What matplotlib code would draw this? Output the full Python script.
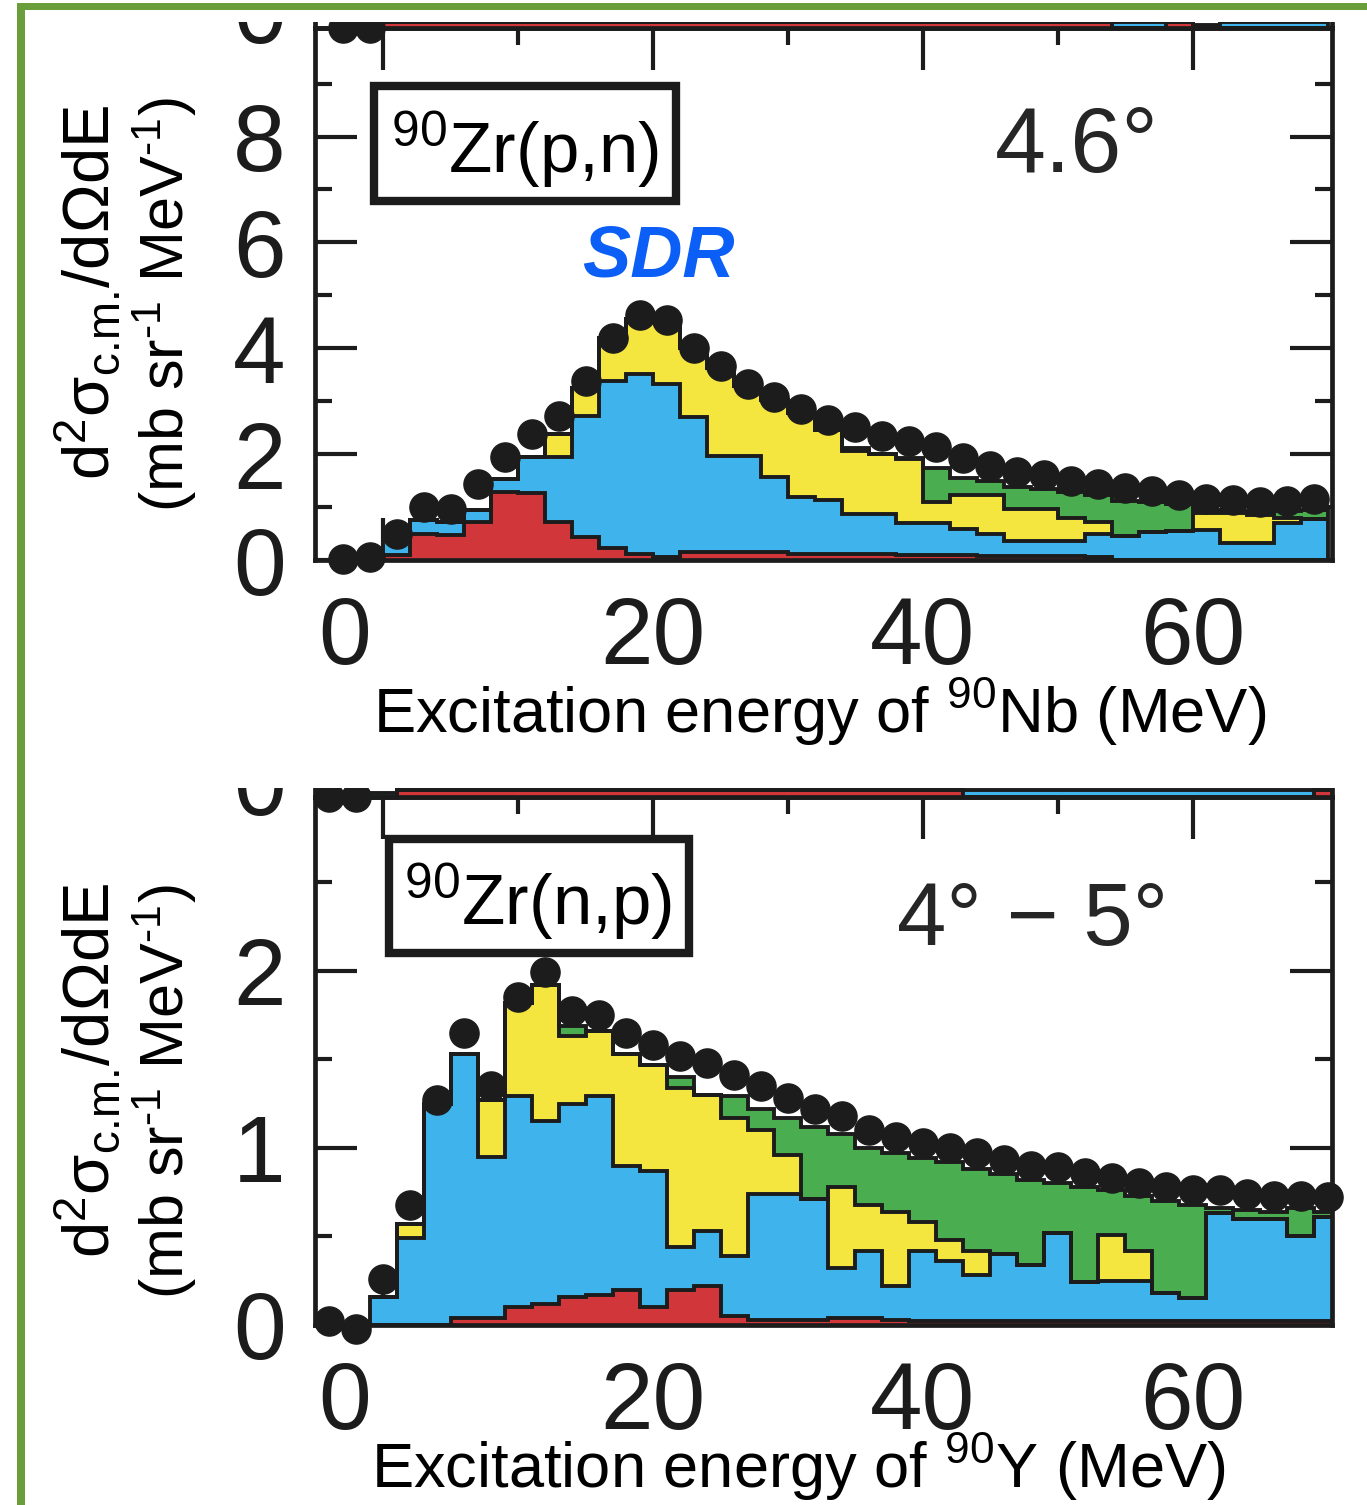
import numpy as np
import matplotlib
matplotlib.use("Agg")
import matplotlib.pyplot as plt
from matplotlib.patches import Rectangle
from matplotlib.transforms import ScaledTranslation

plt.rcParams['font.family'] = ['Liberation Sans', 'DejaVu Sans']
plt.rcParams['mathtext.fontset'] = 'custom'
plt.rcParams['mathtext.rm'] = 'Liberation Sans'
plt.rcParams['mathtext.it'] = 'Liberation Sans:italic'
plt.rcParams['mathtext.bf'] = 'Liberation Sans:bold'
plt.rcParams['mathtext.default'] = 'regular'

# ---------------- data ----------------
# 90Zr(p,n), 4.6 deg : 2-MeV bins from 0 to 70 MeV
pn_edges = np.arange(0, 71, 2)
pn_red = [0.10, 0.50, 0.47, 0.72, 1.29, 1.26, 0.72, 0.44, 0.22, 0.12, 0.06, 0.15,
          0.15, 0.15, 0.15, 0.12, 0.12, 0.12, 0.12, 0.10, 0.10, 0.10, 0.08, 0.08,
          0.08, 0.08, 0.06, 0.00, 0.00, 0.00, 0.00, 0.00, 0.00, 0.00, 0.00]
pn_blue = [0.30, 0.25, 0.25, 0.23, 0.24, 0.69, 1.23, 2.28, 3.17, 3.40, 3.26, 2.56,
           1.82, 1.82, 1.42, 1.07, 1.01, 0.74, 0.74, 0.59, 0.59, 0.49, 0.41, 0.27,
           0.27, 0.27, 0.43, 0.45, 0.52, 0.55, 0.57, 0.33, 0.33, 0.70, 0.77]
pn_yellow = [0.00, 0.00, 0.00, 0.00, 0.00, 0.00, 0.43, 0.53, 0.81, 1.03, 1.18, 1.29,
             1.65, 1.31, 1.45, 1.59, 1.32, 1.19, 1.14, 1.21, 0.40, 0.64, 0.74, 0.61,
             0.61, 0.44, 0.23, 0.00, 0.00, 0.00, 0.31, 0.55, 0.52, 0.10, 0.00]
pn_green = [0.00, 0.00, 0.00, 0.00, 0.00, 0.00, 0.00, 0.00, 0.00, 0.00, 0.00, 0.00,
            0.00, 0.00, 0.00, 0.00, 0.00, 0.07, 0.00, 0.02, 0.65, 0.32, 0.27, 0.42,
            0.38, 0.49, 0.50, 0.67, 0.58, 0.50, 0.07, 0.04, 0.05, 0.12, 0.18]
pn_data_E = np.arange(-3, 70, 2)
pn_data = [0.02, 0.05, 0.50, 1.00, 0.97, 1.43, 1.94, 2.38, 2.72, 3.39, 4.20, 4.62,
           4.54, 4.00, 3.66, 3.32, 3.08, 2.85, 2.65, 2.51, 2.34, 2.24, 2.14, 1.92,
           1.77, 1.67, 1.60, 1.50, 1.43, 1.36, 1.30, 1.23, 1.16, 1.13, 1.10, 1.12,
           1.15]

# 90Zr(n,p), 4-5 deg : 2-MeV bins centred on even energies
np_edges = np.arange(-1, 72, 2)
np_red = [0.00, 0.00, 0.00, 0.04, 0.04, 0.10, 0.12, 0.16, 0.17, 0.20, 0.10, 0.20,
          0.22, 0.05, 0.03, 0.03, 0.03, 0.04, 0.04, 0.03, 0.02, 0.02, 0.02, 0.02,
          0.02, 0.02, 0.02, 0.02, 0.02, 0.02, 0.02, 0.02, 0.02, 0.02, 0.02, 0.02]
np_blue = [0.16, 0.49, 1.25, 1.49, 0.91, 1.19, 1.03, 1.09, 1.12, 0.70, 0.77, 0.24,
           0.31, 0.34, 0.71, 0.71, 0.68, 0.28, 0.38, 0.19, 0.40, 0.34, 0.26, 0.38,
           0.32, 0.50, 0.22, 0.23, 0.23, 0.16, 0.13, 0.61, 0.58, 0.58, 0.48, 0.59]
np_yellow = [0.00, 0.08, 0.00, 0.00, 0.32, 0.53, 0.77, 0.38, 0.37, 0.63, 0.60, 0.90,
             0.77, 0.78, 0.36, 0.22, 0.00, 0.46, 0.26, 0.42, 0.16, 0.12, 0.14, 0.00,
             0.00, 0.00, 0.00, 0.26, 0.17, 0.00, 0.00, 0.00, 0.00, 0.00, 0.00, 0.00]
np_green = [0.00, 0.00, 0.00, 0.00, 0.00, 0.00, 0.00, 0.06, 0.00, 0.00, 0.00, 0.06,
            0.00, 0.12, 0.12, 0.21, 0.41, 0.30, 0.32, 0.33, 0.36, 0.44, 0.46, 0.45,
            0.48, 0.28, 0.54, 0.25, 0.31, 0.52, 0.53, 0.03, 0.05, 0.04, 0.16, 0.03]
np_data_E = np.arange(-4, 71, 2)
np_data = [0.02, -0.02, 0.26, 0.68, 1.27, 1.65, 1.35, 1.85, 1.99, 1.77, 1.75, 1.65,
           1.58, 1.52, 1.48, 1.41, 1.35, 1.28, 1.22, 1.18, 1.10, 1.06, 1.03, 1.00,
           0.97, 0.93, 0.90, 0.89, 0.86, 0.83, 0.80, 0.78, 0.76, 0.76, 0.74, 0.73,
           0.73, 0.72]

# baseline strips of the neighbouring panels just above each spectrum
up_pn_red = [0.12] * 27 + [0.00, 0.00, 0.12, 0.00, 0.00, 0.00, 0.00, 0.00]
up_pn_blue = [0.00] * 27 + [0.12, 0.12, 0.00, 0.06, 0.12, 0.12, 0.12, 0.12]
up_pn_data_E = [-3, -1]
up_pn_data = [0.0, 0.0]
up_np_red = [0.00] + [0.04] * 21 + [0.00] * 13 + [0.04]
up_np_blue = [0.02] + [0.00] * 21 + [0.04] * 13 + [0.00]
up_np_data_E = [-4, -2]
up_np_data = [0.0, 0.0]

xticks_major = [0, 20, 40, 60]
xticks_minor = [10, 30, 50]
pn_yticks, pn_yminor = [0, 2, 4, 6, 8], [1, 3, 5, 7, 9]
np_yticks, np_yminor = [0, 1, 2], [0.5, 1.5, 2.5]

# ---------------- style ----------------
RED, BLUE, YELLOW, GREEN = '#D0363A', '#3FB3EC', '#F5E53F', '#4AAD50'
INK = '#1c1c1c'
FRAME = '#6A9E3A'
W, H, DPI = 1367, 1505, 100

fig = plt.figure(figsize=(W / DPI, H / DPI), dpi=DPI)
fig.patch.set_facecolor('white')


def fx(px):
    return px / W


def fy(py):
    return 1 - py / H


def box(left, top, right, bottom):
    return [fx(left), fy(bottom), (right - left) / W, (bottom - top) / H]


PN_TOP, PN_BOT = 28, 560
NP_TOP, NP_BOT = 797, 1325
PN_YMAX, NP_YMAX = 10.05, 2.98
pn_scale = (PN_BOT - PN_TOP) / PN_YMAX     # pixels per unit
np_scale = (NP_BOT - NP_TOP) / NP_YMAX

ax_pn = fig.add_axes(box(315, PN_TOP, 1332, PN_BOT))
ax_np = fig.add_axes(box(315, NP_TOP, 1332, NP_BOT))
# short strips of the neighbouring panels above
up_pn = fig.add_axes(box(315, 0, 1332, PN_TOP))
up_np = fig.add_axes(box(315, 760, 1332, NP_TOP))

XLIM = (-5.04, 70.3)


def draw_stack(ax, edges, layers, colors):
    base = np.zeros(len(edges) - 1)
    tops = []
    for vals, col in zip(layers, colors):
        top = base + np.asarray(vals, float)
        ax.stairs(top, edges, baseline=base, fill=True, color=col, lw=0, zorder=2)
        tops.append(top)
        base = top
    for i, top in enumerate(tops):
        ax.stairs(top, edges, baseline=(0 if i == len(tops) - 1 else None),
                  color=INK, lw=2.8, zorder=3)


def style_axes(ax, ylim, yt, ytm):
    ax.set_xlim(*XLIM)
    ax.set_ylim(*ylim)
    for s in ax.spines.values():
        s.set_linewidth(3.4)
        s.set_color(INK)
    ax.set_xticks(xticks_major)
    ax.set_xticks(xticks_minor, minor=True)
    ax.set_yticks(yt)
    ax.set_yticks(ytm, minor=True)
    ax.tick_params(which='both', direction='in', top=True, right=True,
                   color=INK, width=3, labelcolor=INK)
    ax.tick_params(which='major', length=30)
    ax.tick_params(which='minor', length=12)
    ax.tick_params(axis='x', labelsize=68, pad=25)
    ax.tick_params(axis='y', labelsize=68, pad=21)


def style_upper(ax, ylim, label_dy):
    ax.set_xlim(*XLIM)
    ax.set_ylim(*ylim)
    ax.patch.set_alpha(0)
    ax.spines['top'].set_visible(False)
    for s in ax.spines.values():
        s.set_linewidth(3.4)
        s.set_color(INK)
    ax.tick_params(which='both', left=False, right=False, bottom=False, top=False,
                   labelleft=False, labelbottom=False)
    ax.annotate('0', xy=(0, 0), xycoords=('axes fraction', 'data'),
                xytext=(-21, label_dy), textcoords='offset points',
                ha='right', va='baseline', fontsize=68, color=INK,
                annotation_clip=False)


# 90Zr(p,n) panel
draw_stack(ax_pn, pn_edges, [pn_red, pn_blue, pn_yellow, pn_green],
           [RED, BLUE, YELLOW, GREEN])
ax_pn.plot(pn_data_E, pn_data, 'o', ms=21, color=INK, zorder=4, clip_on=False)
style_axes(ax_pn, (0, PN_YMAX), pn_yticks, pn_yminor)
ax_pn.set_xlabel('Excitation energy of $^{90}$Nb (MeV)', fontsize=45.5, color='black')
ax_pn.xaxis.label.set_va('baseline')
ax_pn.xaxis.set_label_coords((820 - 315) / 1017, (560 - 733) / 532)

ax_pn.add_patch(Rectangle((0.0583, 0.6754), 0.2964, 0.2150, transform=ax_pn.transAxes,
                          facecolor='white', edgecolor=INK, lw=6, zorder=5))
ax_pn.text(0.2065, 0.7293, '$^{90}$Zr(p,n)', transform=ax_pn.transAxes, ha='center',
           va='baseline', fontsize=51, color='black', zorder=6)
ax_pn.text(0.749, 0.7293, '4.6°', transform=ax_pn.transAxes, ha='center',
           va='baseline', fontsize=66, color='#262626', zorder=6)
ax_pn.text(0.3373, 0.532, 'SDR', transform=ax_pn.transAxes, ha='center',
           va='baseline', fontsize=52, fontweight='bold', fontstyle='italic',
           color='#0B5EF6', zorder=6)

# 90Zr(n,p) panel
draw_stack(ax_np, np_edges, [np_red, np_blue, np_yellow, np_green],
           [RED, BLUE, YELLOW, GREEN])
ax_np.plot(np_data_E, np_data, 'o', ms=21, color=INK, zorder=4, clip_on=False)
style_axes(ax_np, (0, NP_YMAX), np_yticks, np_yminor)
ax_np.set_xlabel('Excitation energy of $^{90}$Y (MeV)', fontsize=45.5, color='black')
ax_np.xaxis.label.set_va('baseline')
ax_np.xaxis.set_label_coords((798 - 315) / 1017, (1325 - 1488) / 528)

ax_np.add_patch(Rectangle((0.0731, 0.7051), 0.2944, 0.2148, transform=ax_np.transAxes,
                          facecolor='white', edgecolor=INK, lw=6, zorder=5))
ax_np.text(0.2193, 0.7576, '$^{90}$Zr(n,p)', transform=ax_np.transAxes, ha='center',
           va='baseline', fontsize=51, color='black', zorder=6)
ax_np.text(0.706, 0.7197, '4° − 5°', transform=ax_np.transAxes, ha='center',
           va='baseline', fontsize=64, color='#262626', zorder=6)

# neighbouring panels above (only their baselines show)
draw_stack(up_pn, pn_edges, [up_pn_red, up_pn_blue], [RED, BLUE])
up_pn.plot(up_pn_data_E, up_pn_data, 'o', ms=21, color=INK, zorder=4, clip_on=False)
style_upper(up_pn, (0, PN_TOP / pn_scale), -10.8)
draw_stack(up_np, np_edges, [up_np_red, up_np_blue], [RED, BLUE])
up_np.plot(up_np_data_E, up_np_data, 'o', ms=21, color=INK, zorder=4, clip_on=False)
style_upper(up_np, (0, (NP_TOP - 760) / np_scale), -13)

# shift the "0" energy label left of its tick
for ax in (ax_pn, ax_np):
    lbl = ax.get_xticklabels()[0]
    lbl.set_transform(lbl.get_transform() + ScaledTranslation(-0.38, 0, fig.dpi_scale_trans))

# y-axis titles
ylab1 = 'd$^2$σ$_{\\text{c.m.}}$/dΩdE'
ylab2 = '(mb sr$^{\\text{-1}}$ MeV$^{\\text{-1}}$)'
for (x1, y1), (x2, y2) in [((88, 292), (165, 305)), ((88, 1070), (165, 1092))]:
    fig.text(fx(x1), fy(y1), ylab1, rotation=90, ha='center', va='center',
             fontsize=47, color='black')
    fig.text(fx(x2), fy(y2), ylab2, rotation=90, ha='center', va='center',
             fontsize=44, color='black')

# cut edges of the cropped figure and the frame
fig.add_artist(Rectangle((0, fy(22)), 1, 22 / H, transform=fig.transFigure,
                         facecolor='white', edgecolor='none', zorder=10))
fig.add_artist(Rectangle((0, fy(788)), 1, 42 / H, transform=fig.transFigure,
                         facecolor='white', edgecolor='none', zorder=10))
fig.add_artist(Rectangle((fx(17), 0), 8 / W, fy(3), transform=fig.transFigure,
                         facecolor=FRAME, edgecolor='none', zorder=11))
fig.add_artist(Rectangle((fx(17), fy(10)), 1 - fx(17), 7 / H, transform=fig.transFigure,
                         facecolor=FRAME, edgecolor='none', zorder=11))

fig.savefig('out.png', dpi=DPI, facecolor='white')
